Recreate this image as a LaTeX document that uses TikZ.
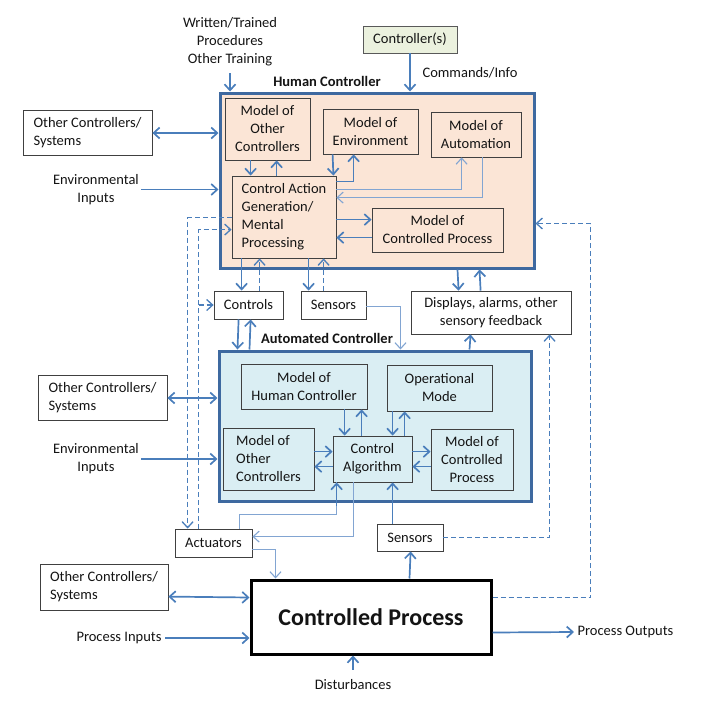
\documentclass[tikz,border=0pt]{standalone}
\usepackage{fontspec}
\setmainfont{Carlito}
\usetikzlibrary{arrows.meta}
\definecolor{ablue}{RGB}{74,126,187}
\definecolor{lblue}{RGB}{130,165,210}
\definecolor{cborder}{RGB}{62,105,160}
\definecolor{hfill}{RGB}{251,229,214}
\definecolor{afill}{RGB}{218,238,243}
\definecolor{gfill}{RGB}{235,241,222}
\definecolor{txt}{RGB}{20,20,20}
\begin{document}
\begin{tikzpicture}[x=1pt,y=-1pt,
  >={Straight Barb[length=6pt,width=11pt]},
  every node/.style={font=\fontsize{14.5}{18}\selectfont, text=txt},
  bold/.style={font=\fontsize{14.5}{18}\selectfont\bfseries},
  box/.style={draw=black!75, line width=0.8pt, inner sep=2pt, align=center},
  container/.style={draw=cborder, line width=3pt, inner sep=0pt},
  lbl/.style={align=center, inner sep=2pt},
  arr/.style={draw=ablue, line width=1.7pt, ->},
  darr/.style={draw=ablue, line width=1.7pt, <->},
  tarr/.style={draw=lblue, line width=1.1pt, ->},
  tline/.style={draw=lblue, line width=1.1pt},
  dsh/.style={draw=ablue, line width=1.3pt, dash pattern=on 5pt off 3pt, ->}]
\useasboundingbox (0,0) rectangle (710,715);

% ---- top ----
\node[box, fill=gfill, draw=black!65, minimum width=94, minimum height=27] (ctrl) at (410,39.5) {Controller(s)};
\node[lbl] (wt) at (230,42) {Written/Trained\\Procedures\\Other Training};
\node[anchor=west] (cmd) at (419,73) {Commands/Info};
\node[bold] (hlabel) at (327,81) {Human Controller};

% ---- human controller ----
\node[container, fill=hfill, minimum width=314, minimum height=175] (human) at (377,180.5) {};
\node[box, fill=hfill, minimum width=85, minimum height=62] (hMOC) at (267.5,129) {Model of\\Other\\Controllers};
\node[box, fill=hfill, minimum width=95, minimum height=45] (hMOE) at (370.5,131.5) {Model of\\Environment};
\node[box, fill=hfill, minimum width=90, minimum height=45] (hMOA) at (476,134.5) {Model of\\Automation};
\node[box, fill=hfill, align=left, minimum width=104, minimum height=82] (hCAG) at (284,217) {Control Action\\Generation/\\Mental\\Processing};
\node[box, fill=hfill, minimum width=131, minimum height=44] (hMCP) at (437.5,230) {Model of\\Controlled Process};

% ---- middle ----
\node[box, fill=white, minimum width=69, minimum height=28] (controls) at (248.5,305) {Controls};
\node[box, fill=white, minimum width=65, minimum height=28] (sensU) at (333.5,305) {Sensors};
\node[box, fill=white, minimum width=160, minimum height=43] (displays) at (491,312.5) {Displays, alarms, other\\sensory feedback};
\node[bold] (alabel) at (327,338) {Automated Controller};

% ---- automated controller ----
\node[container, fill=afill, minimum width=312, minimum height=150] (auto) at (375,426) {};
\node[box, fill=afill, minimum width=126, minimum height=45] (aMHC) at (304,386.5) {Model of\\Human Controller};
\node[box, fill=afill, minimum width=105, minimum height=46] (aOM) at (439.5,388) {Operational\\Mode};
\node[box, fill=afill, align=left, minimum width=91, minimum height=62] (aMOC) at (268.5,459) {Model of\\Other\\Controllers};
\node[box, fill=afill, minimum width=79, minimum height=46] (aCA) at (372.5,459) {Control\\Algorithm};
\node[box, fill=afill, minimum width=82, minimum height=61] (aMCP) at (472,459.5) {Model of\\Controlled\\Process};

% ---- left ----
\node[box, fill=white, align=left, minimum width=129, minimum height=45] (oc1) at (87.5,133) {Other Controllers/\\Systems};
\node[lbl] (env1) at (96,189.5) {Environmental\\Inputs};
\node[box, fill=white, align=left, minimum width=129, minimum height=45] (oc2) at (102.5,398) {Other Controllers/\\Systems};
\node[lbl] (env2) at (96,459) {Environmental\\Inputs};
\node[box, fill=white, align=left, minimum width=128, minimum height=46] (oc3) at (104,587) {Other Controllers/\\Systems};
\node[anchor=east] (pin) at (165,638) {Process Inputs};

% ---- bottom ----
\node[box, fill=white, minimum width=77, minimum height=28] (act) at (213.5,543) {Actuators};
\node[box, fill=white, minimum width=66, minimum height=27] (sensL) at (410,537.5) {Sensors};
\node[draw=black, line width=3pt, fill=white, minimum width=240, minimum height=74, font=\fontsize{24}{28}\selectfont\bfseries] (cp) at (371,617) {Controlled Process};
\node[anchor=west] (pout) at (574,632) {Process Outputs};
\node[lbl] (dist) at (353,685) {Disturbances};

% ---- connectors: top ----
\draw[arr] ([shift={(0,5)}]wt.south) -- (wt.south |- human.north);
\draw[arr] (ctrl.south) -- (ctrl.south |- human.north);
\draw[darr] (oc1.east) -- (oc1.east -| human.west);
\draw[arr] (env1.east) -- (env1.east -| human.west);

% ---- human internal ----
\draw[arr] ([shift={(26,0)}]hMOC.south west) -- ([shift={(19,0)}]hCAG.north west);
\draw[arr] ([shift={(45,0)}]hCAG.north west) -- ([shift={(52,0)}]hMOC.south west);
\draw[arr] ([shift={(10,0)}]hMOE.south west) -- ([shift={(-3,0)}]hCAG.north east);
\draw[arr] ([shift={(0,6)}]hCAG.north east) -| ([shift={(31,0)}]hMOE.south west);
\draw[tarr] ([shift={(0,14)}]hCAG.north east) -| ([shift={(31,0)}]hMOA.south west);
\draw[tarr] ([shift={(52,0)}]hMOA.south west) |- ([shift={(0,22)}]hCAG.north east);
\draw[arr] ([shift={(0,44)}]hCAG.north east) -- ([shift={(0,12)}]hMCP.north west);
\draw[arr] ([shift={(0,30)}]hMCP.north west) -- ([shift={(0,62)}]hCAG.north east);

% ---- human to middle ----
\draw[arr] ([shift={(10,0)}]hCAG.south west) -- ([shift={(28,0)}]controls.north west);
\draw[dsh] ([shift={(46,0)}]controls.north west) -- ([shift={(28,0)}]hCAG.south west);
\draw[arr] ([shift={(77,0)}]hCAG.south west) -- ([shift={(8,0)}]sensU.north west);
\draw[dsh] ([shift={(23,0)}]sensU.north west) -- ([shift={(92,0)}]hCAG.south west);
\draw[arr] ([shift={(239,0)}]human.south west) -- ([shift={(48,0)}]displays.north west);
\draw[arr] ([shift={(70,0)}]displays.north west) -- ([shift={(261,0)}]human.south west);

% ---- middle to automated ----
\draw[arr] ([shift={(25,0)}]controls.south west) -- ([shift={(20,0)}]auto.north west);
\draw[arr] ([shift={(32,0)}]auto.north west) -- ([shift={(37,0)}]controls.south west);
\draw[tarr] ([shift={(0,16)}]sensU.north east) -| ([shift={(183,0)}]auto.north west);
\draw[arr] ([shift={(252,0)}]auto.north west) -- ([shift={(60,0)}]displays.south west);

% ---- automated internal ----
\draw[arr] ([shift={(104,0)}]aMHC.south west) -- ([shift={(12,0)}]aCA.north west);
\draw[arr] ([shift={(29,0)}]aCA.north west) -- ([shift={(121,0)}]aMHC.south west);
\draw[arr] ([shift={(6,0)}]aOM.south west) -- ([shift={(60,0)}]aCA.north west);
\draw[arr] ([shift={(72,0)}]aCA.north west) -- ([shift={(18,0)}]aOM.south west);
\draw[arr] ([shift={(0,24)}]aMOC.north east) -- ([shift={(0,16)}]aCA.north west);
\draw[arr] ([shift={(0,31)}]aCA.north west) -- ([shift={(0,39)}]aMOC.north east);
\draw[arr] ([shift={(0,16)}]aCA.north east) -- ([shift={(0,23)}]aMCP.north west);
\draw[arr] ([shift={(0,38)}]aMCP.north west) -- ([shift={(0,31)}]aCA.north east);

\draw[darr] (oc2.east) -- (oc2.east -| auto.west);
\draw[arr] (env2.east) -- (env2.east -| auto.west);

% ---- dashed feedback on the left ----
\draw[dsh] ([shift={(0,42)}]hCAG.north west) -| ([shift={(13,0)}]act.north west);
\draw[dsh] ([shift={(24,0)}]act.north west) |- ([shift={(0,54)}]hCAG.north west);
\path ([shift={(24,0)}]act.north west) coordinate (dx);
\coordinate (dj) at (dx |- controls.west);
\draw[dsh] (dj) -- (controls.west);

% ---- bottom ----
\draw[tline] ([shift={(65,0)}]act.north west) -- ++(0,-14) -| ([shift={(4,0)}]aCA.south west);
\draw[arr] ([shift={(4,24)}]aCA.south west) -- ([shift={(4,0)}]aCA.south west);
\draw[tarr] ([shift={(21,0)}]aCA.south west) |- ([shift={(0,8)}]act.north east);
\draw[tarr] ([shift={(0,21)}]act.north east) -| ([shift={(26,0)}]cp.north west);
\draw[arr] ([shift={(16,0)}]sensL.north west) -- ([shift={(60,0)}]aCA.south west);
\draw[arr] ([shift={(160,0)}]cp.north west) -- ([shift={(34,0)}]sensL.south west);
\draw[dsh] ([shift={(0,14)}]sensL.north east) -| ([shift={(139,0)}]displays.south west);
\draw[dsh] ([shift={(0,19)}]cp.north east) -- ++(98,0) |- ([shift={(0,132)}]human.north east);
\draw[darr] ([shift={(0,33)}]oc3.north east) -- ([shift={(0,19)}]cp.north west);
\draw[arr] (pin.east) -- (pin.east -| cp.west);
\draw[arr] ([shift={(0,54)}]cp.north east) -- (pout.west);
\draw[arr] ([shift={(0,-8)}]dist.north) -- (dist.north |- cp.south);
\end{tikzpicture}
\end{document}
